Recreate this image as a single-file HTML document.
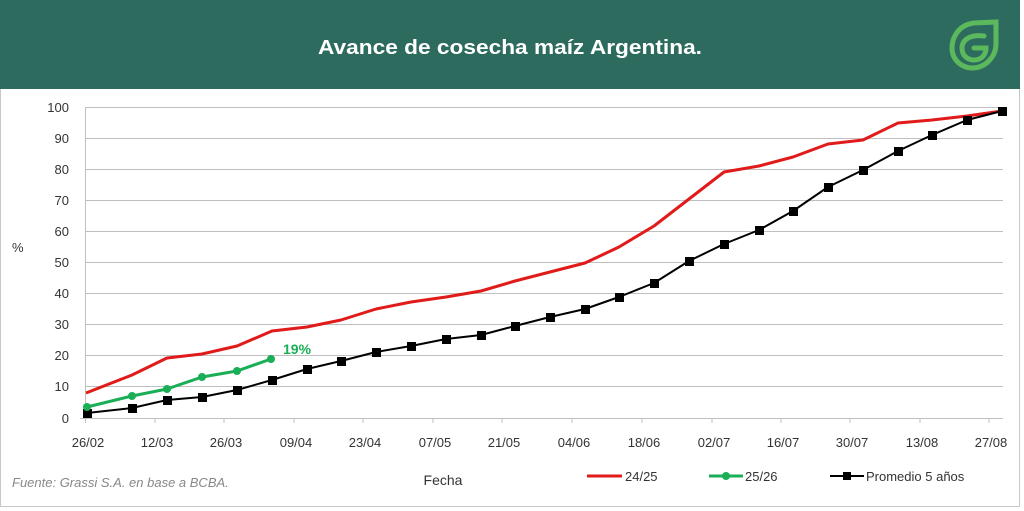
<!DOCTYPE html>
<html><head><meta charset="utf-8"><style>
html,body{margin:0;padding:0;background:#fff;}
svg{display:block;font-family:"Liberation Sans",sans-serif;}
</style></head><body>
<svg width="1024" height="511" viewBox="0 0 1024 511" xmlns="http://www.w3.org/2000/svg">
<rect x="0" y="0" width="1024" height="511" fill="#fff"/>
<rect x="0.5" y="0.5" width="1019" height="506" fill="none" stroke="#c8c8c8"/>
<rect x="0" y="0" width="1020" height="89" fill="#2d6b5f"/>
<text x="510" y="54" fill="#fff" font-size="20" font-weight="bold" text-anchor="middle" textLength="384" lengthAdjust="spacingAndGlyphs">Avance de cosecha maíz Argentina.</text>
<g fill="none" stroke="#5cb85c" stroke-width="5" stroke-linecap="round">
<path d="M996 22 L974 23 C958 25 952 38 952 48 C952 60 962 68 972 68 C986 68 996 56 996 44 Z"/>
<path d="M984 36 C970 34 962 40 962 48 C962 56 968 60 974 60 C982 60 986 54 986 48 L974 48"/>
</g>
<g stroke="#bfbfbf" stroke-width="1">
<line x1="85" y1="107.5" x2="1003" y2="107.5"/>
<line x1="85" y1="138.5" x2="1003" y2="138.5"/>
<line x1="85" y1="169.5" x2="1003" y2="169.5"/>
<line x1="85" y1="200.5" x2="1003" y2="200.5"/>
<line x1="85" y1="231.5" x2="1003" y2="231.5"/>
<line x1="85" y1="262.5" x2="1003" y2="262.5"/>
<line x1="85" y1="293.5" x2="1003" y2="293.5"/>
<line x1="85" y1="324.5" x2="1003" y2="324.5"/>
<line x1="85" y1="355.5" x2="1003" y2="355.5"/>
<line x1="85" y1="386.5" x2="1003" y2="386.5"/>
<line x1="80" y1="418.5" x2="1003" y2="418.5"/>
<line x1="85.5" y1="107" x2="85.5" y2="418"/>
</g>
<g stroke="#bfbfbf">
<line x1="85.5" y1="418" x2="85.5" y2="423"/><line x1="155" y1="418" x2="155" y2="423"/><line x1="224" y1="418" x2="224" y2="423"/><line x1="294" y1="418" x2="294" y2="423"/><line x1="363" y1="418" x2="363" y2="423"/><line x1="433" y1="418" x2="433" y2="423"/><line x1="502" y1="418" x2="502" y2="423"/><line x1="572" y1="418" x2="572" y2="423"/><line x1="642" y1="418" x2="642" y2="423"/><line x1="712" y1="418" x2="712" y2="423"/><line x1="781" y1="418" x2="781" y2="423"/><line x1="850" y1="418" x2="850" y2="423"/><line x1="920" y1="418" x2="920" y2="423"/><line x1="989" y1="418" x2="989" y2="423"/>
</g>
<g font-size="13" fill="#333" text-anchor="end">
<text x="69" y="112">100</text><text x="69" y="143">90</text><text x="69" y="174">80</text><text x="69" y="205">70</text><text x="69" y="236">60</text><text x="69" y="267">50</text><text x="69" y="298">40</text><text x="69" y="329">30</text><text x="69" y="360">20</text><text x="69" y="391">10</text><text x="69" y="423">0</text>
</g>
<text x="12" y="252" font-size="13" fill="#333">%</text>
<g font-size="13" fill="#333" text-anchor="middle">
<text x="88" y="447">26/02</text><text x="157" y="447">12/03</text><text x="226" y="447">26/03</text><text x="296" y="447">09/04</text><text x="365" y="447">23/04</text><text x="435" y="447">07/05</text><text x="504" y="447">21/05</text><text x="574" y="447">04/06</text><text x="644" y="447">18/06</text><text x="714" y="447">02/07</text><text x="783" y="447">16/07</text><text x="852" y="447">30/07</text><text x="922" y="447">13/08</text><text x="991" y="447">27/08</text>
</g>
<text x="443" y="485" font-size="14" fill="#333" text-anchor="middle">Fecha</text>
<text x="12" y="487" font-size="13" font-style="italic" fill="#888">Fuente: Grassi S.A. en base a BCBA.</text>
<polyline fill="none" stroke="#e11a1a" stroke-width="3" stroke-linejoin="round" points="86,393 132,375 167,358 202,354 237,346 272,331 307,327 341,320 376,309 411,302 446,297 481,291 515,281 550,272 585,263 619,247 654,226 689,199 724,172 759,166 793,157 828,144 863,140 898,123 932,120 967,116 1002,111"/>
<polyline fill="none" stroke="#000" stroke-width="2" stroke-linejoin="round" points="87,413 132,408 167,400 202,397 237,390 272,380 307,369 341,361 376,352 411,346 446,339 481,335 515,326 550,317 585,309 619,297 654,283 689,261 724,244 759,230 793,211 828,187 863,170 898,151 932,135 967,120 1002,111"/>
<g fill="#000">
<rect x="83" y="409" width="9" height="9"/><rect x="128" y="404" width="9" height="9"/><rect x="163" y="396" width="9" height="9"/><rect x="198" y="393" width="9" height="9"/><rect x="233" y="386" width="9" height="9"/><rect x="268" y="376" width="9" height="9"/><rect x="303" y="365" width="9" height="9"/><rect x="337" y="357" width="9" height="9"/><rect x="372" y="348" width="9" height="9"/><rect x="407" y="342" width="9" height="9"/><rect x="442" y="335" width="9" height="9"/><rect x="477" y="331" width="9" height="9"/><rect x="511" y="322" width="9" height="9"/><rect x="546" y="313" width="9" height="9"/><rect x="581" y="305" width="9" height="9"/><rect x="615" y="293" width="9" height="9"/><rect x="650" y="279" width="9" height="9"/><rect x="685" y="257" width="9" height="9"/><rect x="720" y="240" width="9" height="9"/><rect x="755" y="226" width="9" height="9"/><rect x="789" y="207" width="9" height="9"/><rect x="824" y="183" width="9" height="9"/><rect x="859" y="166" width="9" height="9"/><rect x="894" y="147" width="9" height="9"/><rect x="928" y="131" width="9" height="9"/><rect x="963" y="116" width="9" height="9"/><rect x="998" y="107" width="9" height="9"/>
</g>
<polyline fill="none" stroke="#1aae56" stroke-width="3" stroke-linejoin="round" points="87,407 132,396 167,389 202,377 237,371 271,359"/>
<g fill="#1aae56">
<circle cx="87" cy="407" r="4"/><circle cx="132" cy="396" r="4"/><circle cx="167" cy="389" r="4"/><circle cx="202" cy="377" r="4"/><circle cx="237" cy="371" r="4"/><circle cx="271" cy="359" r="4"/>
</g>
<text x="283" y="354" font-size="14" font-weight="bold" fill="#1aae56">19%</text>
<line x1="587" y1="476" x2="622" y2="476" stroke="#e11a1a" stroke-width="3"/>
<text x="625" y="481" font-size="13" fill="#333">24/25</text>
<line x1="709" y1="476" x2="743" y2="476" stroke="#1aae56" stroke-width="3"/><circle cx="726" cy="476" r="4" fill="#1aae56"/>
<text x="745" y="481" font-size="13" fill="#333">25/26</text>
<line x1="830" y1="476" x2="864" y2="476" stroke="#000" stroke-width="2"/><rect x="843" y="472" width="8" height="8" fill="#000"/>
<text x="866" y="481" font-size="13" fill="#333">Promedio 5 años</text>
</svg>
</body></html>
